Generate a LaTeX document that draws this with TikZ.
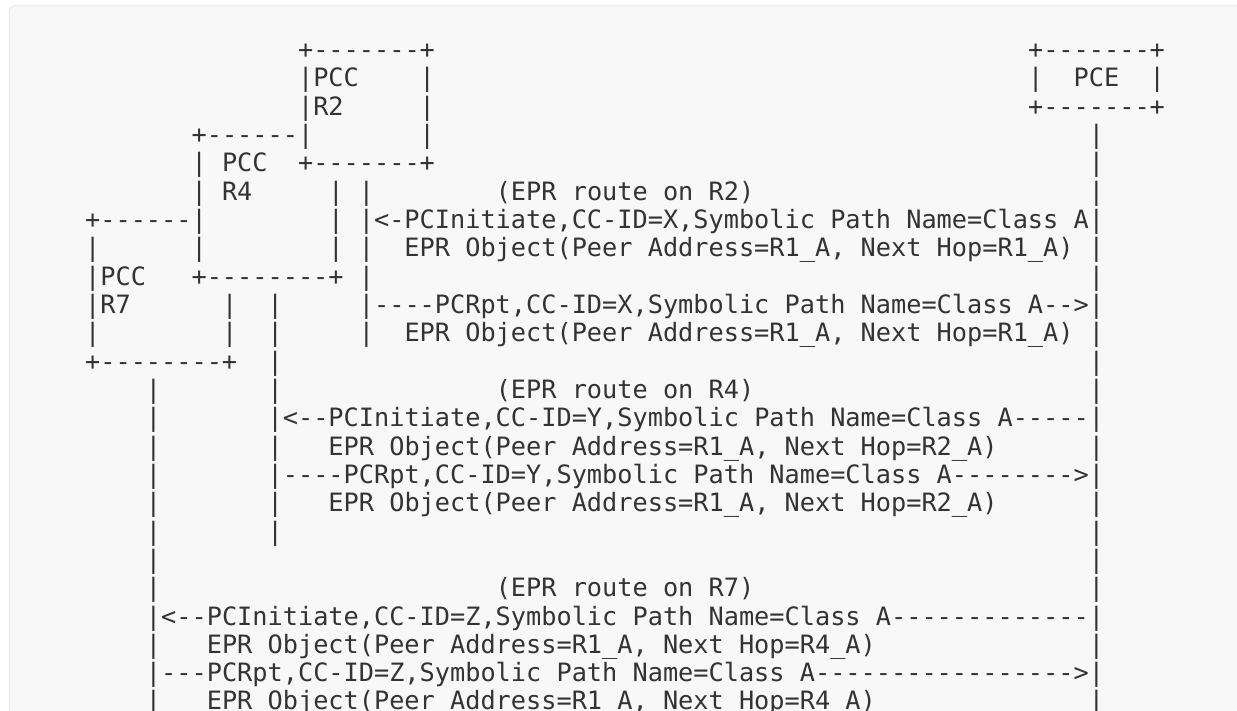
\documentclass[tikz,border=0pt]{standalone}
\usepackage{fontspec}
\setmonofont{DejaVu Sans Mono}
\usepackage{tikz}
\frenchspacing
\definecolor{blockbg}{HTML}{F8F8F8}
\definecolor{blockframe}{HTML}{EBEBEB}
\definecolor{asciiink}{HTML}{333333}
\newcommand{\asciigap}[1]{\hspace*{#1\fontcharwd\font`\x}}% n blank cells
\tikzset{
  codeblock/.style = {draw=blockframe, fill=blockbg, line width=1.2pt, rounded corners=5pt},
  asciiline/.style = {anchor=base west, inner sep=0pt, outer sep=0pt, text=asciiink,
    font=\ttfamily\fontsize{25.26pt}{30pt}\selectfont},
}

\begin{document}
\begin{tikzpicture}
\useasboundingbox (0pt,0pt) rectangle (1237pt,-711pt);
\clip (0pt,0pt) rectangle (1237pt,-711pt);
\draw[codeblock] (9.5pt,-5.5pt) rectangle (1262pt,-740pt);
\begin{scope}[x=15.21pt,y=-28.33pt,shift={(24.3pt,-58.4pt)}]
% PCC R2, PCE
\node[asciiline] (ln0) at (18,0) {+-------+\asciigap{39}+-------+};
\node[asciiline] (ln1) at (18,1) {|PCC\asciigap{4}|\asciigap{39}|\asciigap{2}PCE\asciigap{2}|};
\node[asciiline] (ln2) at (18,2) {|R2\asciigap{5}|\asciigap{39}+-------+};
% PCC R4
\node[asciiline] (ln3) at (11,3) {+------|\asciigap{7}|\asciigap{43}|};
\node[asciiline] (ln4) at (11,4) {|\asciigap{1}PCC\asciigap{2}+-------+\asciigap{43}|};
\node[asciiline] (ln5) at (11,5) {|\asciigap{1}R4\asciigap{5}|\asciigap{1}|\asciigap{8}(EPR route on R2)\asciigap{22}|};
% PCC R7
\node[asciiline] (ln6) at (4,6) {+------|\asciigap{8}|\asciigap{1}|<-PCInitiate,CC-ID=X,Symbolic Path Name=Class A|};
\node[asciiline] (ln7) at (4,7) {|\asciigap{6}|\asciigap{8}|\asciigap{1}|\asciigap{2}EPR Object(Peer Address=R1\_A, Next Hop=R1\_A)\asciigap{1}|};
\node[asciiline] (ln8) at (4,8) {|PCC\asciigap{3}+--------+\asciigap{1}|\asciigap{47}|};
\node[asciiline] (ln9) at (4,9) {|R7\asciigap{6}|\asciigap{2}|\asciigap{5}|----PCRpt,CC-ID=X,Symbolic Path Name=Class A-->|};
\node[asciiline] (ln10) at (4,10) {|\asciigap{8}|\asciigap{2}|\asciigap{5}|\asciigap{2}EPR Object(Peer Address=R1\_A, Next Hop=R1\_A)\asciigap{1}|};
\node[asciiline] (ln11) at (4,11) {+--------+\asciigap{2}|\asciigap{53}|};
% route on R4
\node[asciiline] (ln12) at (8,12) {|\asciigap{7}|\asciigap{14}(EPR route on R4)\asciigap{22}|};
\node[asciiline] (ln13) at (8,13) {|\asciigap{7}|<--PCInitiate,CC-ID=Y,Symbolic Path Name=Class A-----|};
\node[asciiline] (ln14) at (8,14) {|\asciigap{7}|\asciigap{3}EPR Object(Peer Address=R1\_A, Next Hop=R2\_A)\asciigap{6}|};
\node[asciiline] (ln15) at (8,15) {|\asciigap{7}|----PCRpt,CC-ID=Y,Symbolic Path Name=Class A-------->|};
\node[asciiline] (ln16) at (8,16) {|\asciigap{7}|\asciigap{3}EPR Object(Peer Address=R1\_A, Next Hop=R2\_A)\asciigap{6}|};
\node[asciiline] (ln17) at (8,17) {|\asciigap{7}|\asciigap{53}|};
\node[asciiline] (ln18) at (8,18) {|\asciigap{61}|};
% route on R7
\node[asciiline] (ln19) at (8,19) {|\asciigap{22}(EPR route on R7)\asciigap{22}|};
\node[asciiline] (ln20) at (8,20) {|<--PCInitiate,CC-ID=Z,Symbolic Path Name=Class A-------------|};
\node[asciiline] (ln21) at (8,21) {|\asciigap{3}EPR Object(Peer Address=R1\_A, Next Hop=R4\_A)\asciigap{14}|};
\node[asciiline] (ln22) at (8,22) {|---PCRpt,CC-ID=Z,Symbolic Path Name=Class A----------------->|};
\node[asciiline] (ln23) at (8,23) {|\asciigap{3}EPR Object(Peer Address=R1\_A, Next Hop=R4\_A)\asciigap{14}|};
\end{scope}
\end{tikzpicture}
\end{document}
